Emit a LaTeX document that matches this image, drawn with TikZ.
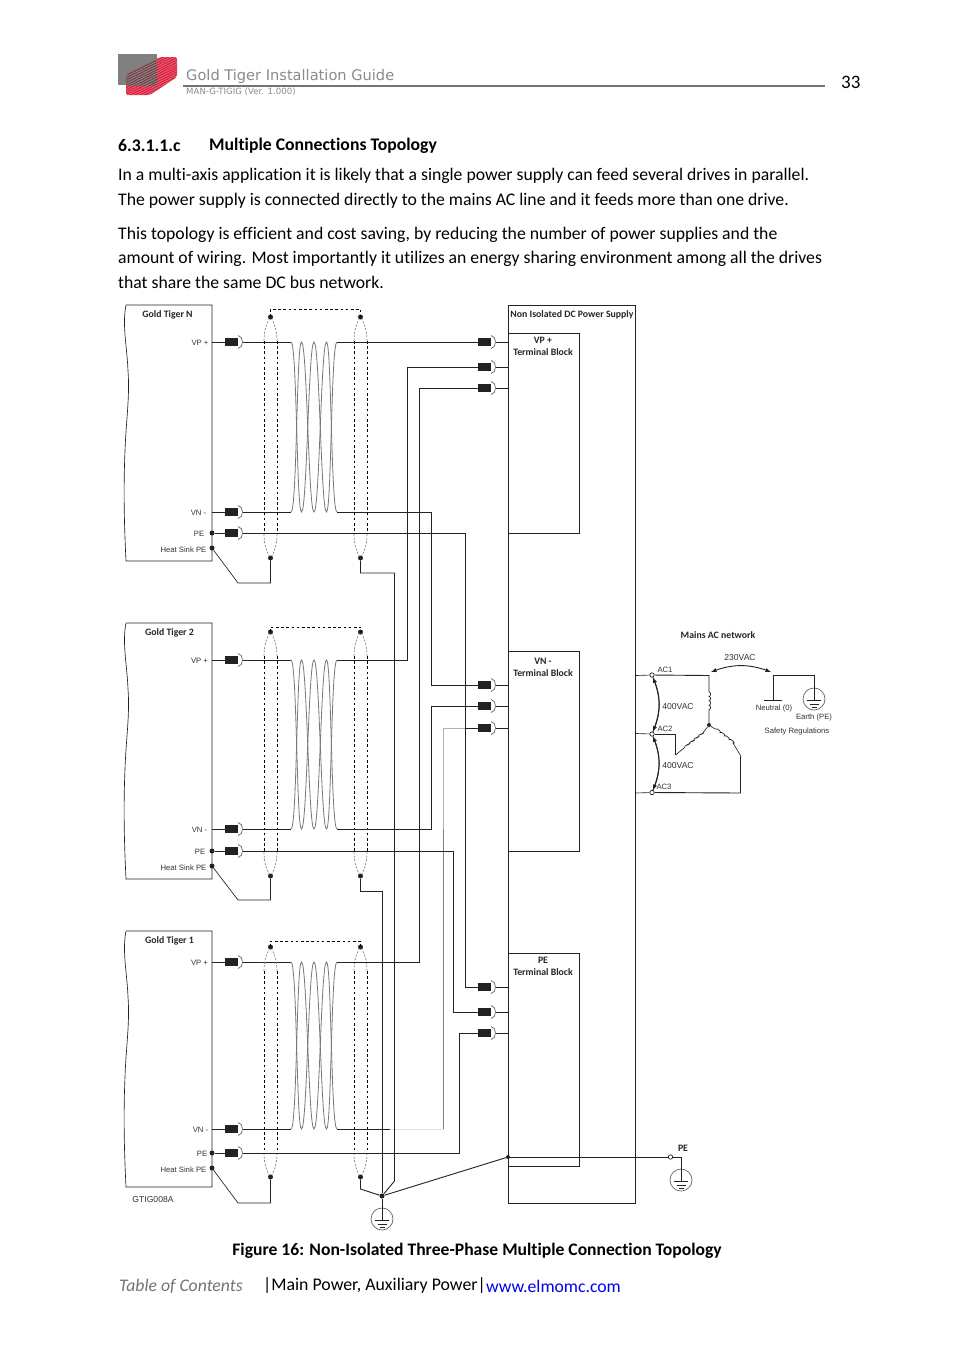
\documentclass[tikz,border=0pt]{standalone}
\usepackage{fontspec}
\setmainfont{Carlito}[Ligatures=NoCommon]
\newfontfamily\headfont{DejaVu Sans}
\newfontfamily\labfont{Liberation Sans}
\usetikzlibrary{positioning}

\definecolor{wirecol}{HTML}{222222}
\definecolor{coilcol}{HTML}{777777}
\definecolor{headcol}{HTML}{8A8A8A}
\definecolor{logored}{HTML}{DC2340}
\definecolor{logodark}{HTML}{6E4A50}
\definecolor{linkblue}{HTML}{0000EE}

\tikzset{
    wire/.style      =   { draw=wirecol
                         , line width=0.9pt
    }
    , thin wire/.style = { draw=wirecol
                         , line width=0.65pt
    }
    , coilline/.style =  { draw=coilcol
                         , line width=0.8pt
    }
    , shieldline/.style = { draw=black
                         , line width=0.8pt
                         , dash pattern=on 2.6pt off 2.6pt
    }
    , shieldend/.style = { draw=black!45
                         , line width=0.7pt
                         , dash pattern=on 2.2pt off 1.4pt
    }
    , plugbox/.style =   { rectangle
                         , fill=wirecol
                         , minimum width=13pt
                         , minimum height=8pt
                         , inner sep=0pt
    }
    , plugarc/.style =   { draw=black!60
                         , line width=0.7pt
    }
    , jdot/.style =      { circle
                         , fill=wirecol
                         , minimum size=5pt
                         , inner sep=0pt
    }
    , opendot/.style =   { circle
                         , draw=wirecol
                         , fill=white
                         , line width=0.7pt
                         , minimum size=4.4pt
                         , inner sep=0pt
    }
    , lab/.style =       { font=\labfont\fontsize{7.7}{9}\selectfont
                         , text=black!80
                         , inner sep=0pt
    }
    , vlab/.style =      { font=\labfont\fontsize{8.6}{10}\selectfont
                         , text=black!80
                         , inner sep=0pt
    }
    , blab/.style =      { font=\fontsize{9.8}{12}\selectfont\bfseries
                         , text=black!85
                         , inner sep=0pt
                         , align=center
    }
    , body/.style =      { font=\fontsize{17.7}{24.4}\selectfont
                         , anchor=north west
                         , align=left
                         , inner sep=0pt
    }
    , gndsym/.pic = {
        \draw[draw=black!60, line width=0.7pt] (0,0) circle (11);
        \draw[thin wire] (-7,1.5) -- (7,1.5);
        \draw[thin wire] (-4.5,5) -- (4.5,5);
        \draw[thin wire] (-2.5,8) -- (2.5,8);
        \coordinate (-top) at (0,1.5);
    }
}

% one connector: black body with the open cup on its right
\newcommand{\plug}[3]{
    \node[plugbox] (#1) at (#2,#3) {};
    \coordinate (#1-r) at (#2+11.5,#3);
    \draw[plugarc] (#2+6.5,#3-6.5) .. controls (#2+12.5,#3-6) and (#2+12.5,#3+6) .. (#2+6.5,#3+6.5);
}
% twisted pair between two heights
\newcommand{\twist}[2]{
    \draw[coilline] (291,#1) .. controls (297,#1) and (296.5,#2) .. (301.5,#2)
        .. controls (307,#2) and (308.5,#1) .. (314,#1)
        .. controls (319.5,#1) and (321,#2) .. (326.5,#2)
        .. controls (331.5,#2) and (331,#1) .. (337,#1);
    \draw[coilline] (291,#2) .. controls (297,#2) and (296.5,#1) .. (301.5,#1)
        .. controls (307,#1) and (308.5,#2) .. (314,#2)
        .. controls (319.5,#2) and (321,#1) .. (326.5,#1)
        .. controls (331.5,#1) and (331,#2) .. (337,#2);
}
% one oval of the shield
\newcommand{\shield}[4]{
    \node[jdot] (#1-t) at (#2,#3) {};
    \node[jdot] (#1-b) at (#2,#4) {};
    \draw[shieldend] (#2-6.5,#3+24) .. controls (#2-6.5,#3+12) and (#2-3,#3+5) .. (#1-t);
    \draw[shieldend] (#2+6.5,#3+24) .. controls (#2+6.5,#3+12) and (#2+3,#3+5) .. (#1-t);
    \draw[shieldend] (#2-6.5,#4-24) .. controls (#2-6.5,#4-12) and (#2-3,#4-5) .. (#1-b);
    \draw[shieldend] (#2+6.5,#4-24) .. controls (#2+6.5,#4-12) and (#2+3,#4-5) .. (#1-b);
    \draw[shieldline] (#2-6.5,#3+24) -- (#2-6.5,#4-24);
    \draw[shieldline] (#2+6.5,#3+24) -- (#2+6.5,#4-24);
}

\begin{document}
\begin{tikzpicture}[x=1pt, y=-1pt]
    \useasboundingbox[fill=white] (0,0) rectangle (954,1350);

    %% page header
    \fill[black!50] (118,54) rectangle (157,85);
    \begin{scope}
        \clip[rounded corners=2pt] (126,75) -- (160,57) -- (177,57) -- (177,77) -- (150,95) -- (126,95) -- cycle;
        \fill[logored] (118,50) rectangle (180,98);
        \begin{scope}
            \clip (118,54) rectangle (157,85);
            \fill[logodark] (118,50) rectangle (180,98);
        \end{scope}
        \foreach \s in {0,2.4,...,72} {
            \draw[white, opacity=0.4, line width=0.5pt] (120,\s+58) -- (185,\s+26);
        }
    \end{scope}
    \draw[draw=black!55, line width=1.4pt] (183,86) -- (825,86);
    \node[anchor=west, inner sep=0pt, text=headcol, font=\headfont\fontsize{14.6}{16}\selectfont] (title) at (186,76) {Gold Tiger Installation Guide};
    \node[anchor=west, inner sep=0pt, text=headcol, font=\headfont\fontsize{8.6}{10}\selectfont] (version) at (186,91.5) {MAN-G-TIGIG (Ver. 1.000)};
    \node[anchor=west, inner sep=0pt, font=\fontsize{19}{21}\selectfont] (pagenum) at (841,82.5) {33};

    %% text above the figure
    \node[anchor=west, inner sep=0pt, font=\fontsize{17.7}{20}\selectfont\bfseries] (secnum) at (118,146) {6.3.1.1.c};
    \node[anchor=west, inner sep=0pt, font=\fontsize{17.7}{20}\selectfont\bfseries] (sectitle) at (209,146) {Multiple Connections Topology};
    \node[body] (para1) at (118,168.5) {In a multi-axis application it is likely that a single power supply can feed several drives in parallel.\\The power supply is connected directly to the mains AC line and it feeds more than one drive.};
    \node[body] (para2) at (118,227) {This topology is efficient and cost saving, by reducing the number of power supplies and the\\amount of wiring. Most importantly it utilizes an energy sharing environment among all the drives\\that share the same DC bus network.};

    %% the three drives
    \foreach \id/\name/\ytop/\ybot/\yvp/\yvn/\ype/\yhs/\yst/\ysb/\ylink/\yhw/\xvp/\xvn/\xpe/\xname in {
        N/Gold Tiger N/305/561/342/512/533/548/317/558/309/583/200/198.5/199/167.5,
        B/Gold Tiger 2/623/879/660/829/851/866/632/876/627/900/199.5/199.5/200/169.5,
        A/Gold Tiger 1/931/1187/962/1129/1153/1168/947/1177/941/1203/199.5/200.5/202/169.5} {
        % housing with its broken left side
        \draw[thin wire] (126,\ytop) -- (212,\ytop) -- (212,\ybot) -- (126,\ybot)
            .. controls (124,\ybot-40) and (123.5,\ybot-75) .. (125,\ybot-110)
            .. controls (126,\ybot-140) and (130,\ybot-165) .. (128,\ybot-190)
            .. controls (127,\ybot-215) and (122,\ytop+20) .. (126,\ytop);
        \node[blab] (name\id) at (\xname,\ytop+9.5) {\name};
        \node[lab] (lvp\id) at (\xvp,\yvp+0.5) {VP +};
        \node[lab] (lvn\id) at (\xvn,\yvn+0.5) {VN -};
        \node[lab] (lpe\id) at (\xpe,\ype+0.5) {PE};
        \node[lab, anchor=east] (lhs\id) at (206.5,\yhs+2) {Heat Sink PE};
        \coordinate (vp\id) at (212,\yvp);
        \coordinate (vn\id) at (212,\yvn);
        \node[jdot] (pe\id) at (212,\ype) {};
        \node[jdot] (hs\id) at (212,\yhs) {};
        \plug{pvp\id}{231.5}{\yvp}
        \plug{pvn\id}{231.5}{\yvn}
        \plug{ppe\id}{231.5}{\ype}
        \coordinate (cvp\id) at (337,\yvp);
        \coordinate (cvn\id) at (337,\yvn);
        \draw[wire] (vp\id) -- (pvp\id) (pvp\id-r) -- (291,\yvp);
        \draw[wire] (vn\id) -- (pvn\id) (pvn\id-r) -- (291,\yvn);
        \draw[wire] (pe\id) -- (ppe\id);
        \twist{\yvp}{\yvn}
        % the shield and its link
        \shield{sl\id}{270.5}{\yst}{\ysb}
        \shield{sr\id}{360.5}{\yst}{\ysb}
        \draw[shieldline] (270.5,\yst) -- (270.5,\ylink) -- (360.5,\ylink) -- (360.5,\yst);
        \coordinate (hk\id) at (238,\yhw);
        \coordinate (hj\id) at (270.5,\yhw);
        \draw[thin wire] (hs\id) -- (hk\id) -- (hj\id) -- (sl\id-b);
    }

    %% power supply and terminal blocks
    \node[draw=wirecol, line width=0.9pt, minimum width=127pt, minimum height=898pt, inner sep=0pt] (psu) at (571.5,754) {};
    \node[blab] (psulabel) at (572,314.5) {Non Isolated DC Power Supply};
    \node[draw=wirecol, line width=0.9pt, minimum width=71pt, minimum height=200pt, inner sep=0pt] (tbvp) at (543.5,433) {};
    \node[draw=wirecol, line width=0.9pt, minimum width=71pt, minimum height=200pt, inner sep=0pt] (tbvn) at (543.5,751) {};
    \node[draw=wirecol, line width=0.9pt, minimum width=71pt, minimum height=213pt, inner sep=0pt] (tbpe) at (543.5,1059.5) {};
    \node[blab] (tbvplabel) at (543,346) {VP +\\Terminal Block};
    \node[blab] (tbvnlabel) at (543,667) {VN -\\Terminal Block};
    \node[blab] (tbpelabel) at (543,966) {PE\\Terminal Block};

    \foreach \pname/\py in {q1/342, q2/367, q3/388, q4/685, q5/706, q6/728, q7/987, q8/1012, q9/1033} {
        \plug{\pname}{484.5}{\py}
        \draw[wire] (\pname-r) -- (508,\py);
    }

    %% wires from the drives to the blocks
    \draw[wire] (cvpN) -- (q1);
    \draw[wire] (cvpB) -| (407,367) -- (q2);
    \draw[wire] (cvpA) -| (419,388) -- (q3);
    \draw[wire] (cvnN) -| (431,685) -- (q4);
    \draw[wire] (cvnB) -| (431,706) -- (q5);
    \draw[draw=black!12, line width=0.9pt] (390,1129) -- (443.5,1129);
    \draw[wire] (cvnA) -- (390,1129);
    \draw[draw=black!50, line width=0.9pt] (443.5,1129) -- (443.5,829);
    \draw[draw=black!30, line width=0.9pt] (443.5,829) -- (443.5,728) -- (465,728);
    \draw[wire] (465,728) -- (q6);
    \draw[wire] (ppeN-r) -- (465.5,533) -- (465.5,987) -- (q7);
    \draw[wire] (ppeB-r) -- (453.5,851) -- (453.5,1012) -- (q8);
    \draw[wire] (ppeA-r) -- (459.5,1153) -- (459.5,1033) -- (q9);

    %% earth wiring
    \node[jdot] (star) at (382,1196) {};
    \node[jdot, minimum size=4pt] (psupe) at (508,1157) {};
    \node[opendot] (peout) at (670.5,1157) {};
    \pic (gnda) at (382,1219) {gndsym};
    \pic (gndb) at (681,1180) {gndsym};
    \draw[wire] (srN-b) |- (394.5,573) -- (394.5,1181) -- (star);
    \draw[wire] (srB-b) |- (382,891) -- (star);
    \draw[wire] (srA-b) -- (360.5,1189) -- (star);
    \draw[wire] (star) -- (gnda-top);
    \draw[wire] (star) -- (psupe);
    \draw[wire] (psupe) -- (peout);
    \draw[wire] (peout) -- (681,1157) -- (gndb-top);
    \node[blab] (pelabel) at (683,1148.5) {PE};
    \node[vlab] (drawno) at (153,1199.5) {GTIG008A};

    %% mains network
    \node[blab] (mains) at (718,635.5) {Mains AC network};
    \node[opendot] (ac1) at (652,675) {};
    \node[opendot] (ac2) at (652,734) {};
    \node[opendot] (ac3) at (652,792.5) {};
    \node[jdot, minimum size=4pt] (starpt) at (709,725) {};
    \coordinate (coilb) at (675.5,755);
    \coordinate (coilc) at (740.5,755.5);
    \draw[thin wire] (635.5,675.5) -- (ac1);
    \draw[thin wire] (635.5,733.5) -- (ac2);
    \draw[thin wire] (635.5,793) -- (ac3);
    \draw[wire] (ac1) -- (709,675.5) -- (709,692);
    \draw[thin wire] (709,692) \foreach \i in {0,1,2,3} { arc (-90:90:1.6 and 2.2) } -- (starpt);
    \draw[wire] (ac2) -- (675.5,734) -- (coilb);
    \draw[thin wire] (coilb) -- (684,748) \foreach \i in {0,1,2,3} { .. controls ++(1,-4) and ++(3,-1) .. ++(4.5,-3.5) } -- (starpt);
    \draw[thin wire] (starpt) -- (715,729) \foreach \i in {0,1,2,3} { .. controls ++(3,-2) and ++(3.5,2) .. ++(4.5,3.5) } -- (coilc);
    \draw[wire] (coilc) -- (740.5,793) -- (ac3);
    \draw[wire, -latex] (ac2) to[bend right=22] (ac1);
    \draw[wire, -latex] (ac1) to[bend left=22] (ac2);
    \draw[wire, -latex] (ac3) to[bend right=22] (ac2);
    \draw[wire, -latex] (ac2) to[bend left=22] (ac3);
    \coordinate (arcl) at (711,672);
    \coordinate (arcr) at (771,672);
    \draw[wire, latex-latex] (arcl) to[bend left=20] (arcr);
    \coordinate (neu) at (773,675);
    \coordinate (ear) at (814,675);
    \coordinate (neub) at (773,700);
    \pic (gndc) at (814,699) {gndsym};
    \draw[wire] (neub) -- (neu) -- (ear) -- (gndc-top);
    \draw[thin wire] (764,700) -- (782,700);
    \node[lab] (lac1) at (665,670) {AC1};
    \node[lab] (lac2) at (665,728.5) {AC2};
    \node[lab] (lac3) at (664,787) {AC3};
    \node[vlab] (l400a) at (678,706.5) {400VAC};
    \node[vlab] (l400b) at (678,765.5) {400VAC};
    \node[vlab] (l230) at (740,657.5) {230VAC};
    \node[lab] (lneu) at (774,708) {Neutral (0)};
    \node[lab] (lear) at (814,717) {Earth (PE)};
    \node[lab] (lsafe) at (797,731) {Safety Regulations};

    %% caption and footer
    \node[inner sep=0pt, font=\fontsize{17.6}{20}\selectfont\bfseries] (caption) at (477,1251) {Figure 16: Non-Isolated Three-Phase Multiple Connection Topology};
    \node[anchor=west, inner sep=0pt, text=black!55, font=\fontsize{17.7}{20}\selectfont\itshape] (toc) at (119,1286.5) {Table of Contents};
    \node[anchor=west, inner sep=0pt, font=\fontsize{17.8}{20}\selectfont] (footmid) at (263,1286) {|Main Power, Auxiliary Power|};
    \node[anchor=west, inner sep=0pt, text=linkblue, font=\fontsize{17.7}{20}\selectfont] (footurl) at (486,1286) {www.elmomc.com};
\end{tikzpicture}
\end{document}
